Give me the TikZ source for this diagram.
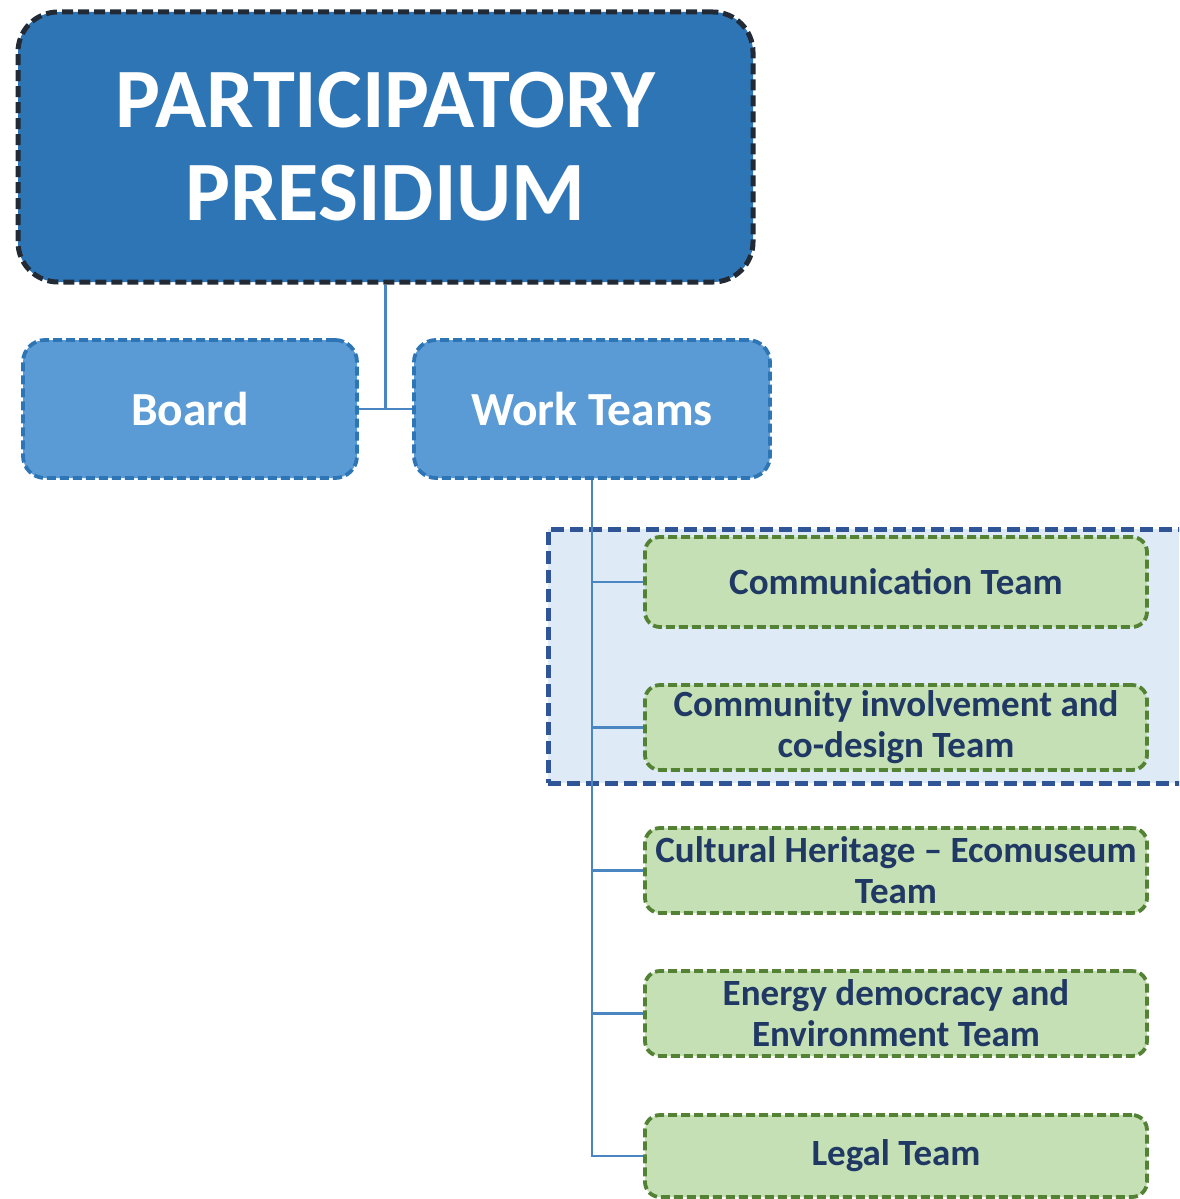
\documentclass[tikz,border=0pt]{standalone}
\usepackage{fontspec}
\setmainfont{Carlito}
\definecolor{presfill}{HTML}{2E75B6}
\definecolor{presdraw}{HTML}{222A35}
\definecolor{midfill}{HTML}{5B9BD5}
\definecolor{middraw}{HTML}{2E75B6}
\definecolor{hlfill}{HTML}{DEEBF7}
\definecolor{hldraw}{HTML}{2F5597}
\definecolor{grfill}{HTML}{C5E0B4}
\definecolor{grdraw}{HTML}{548235}
\definecolor{grtext}{HTML}{203864}
\definecolor{conn}{HTML}{4A86C2}
\begin{document}
\begin{tikzpicture}[x=1pt,y=-1pt,
  presbox/.style={draw=presdraw,fill=presfill,line width=5pt,dash pattern=on 11pt off 5pt,rounded corners=40pt,text=white,font=\bfseries\fontsize{84.5}{93}\selectfont,align=center,inner sep=0pt},
  midbox/.style={draw=middraw,fill=midfill,line width=3.8pt,dash pattern=on 9pt off 4pt,rounded corners=22pt,text=white,font=\bfseries\fontsize{47.5}{50}\selectfont,align=center,minimum height=138pt,inner sep=0pt},
  teambox/.style={draw=grdraw,fill=grfill,line width=3.8pt,dash pattern=on 9pt off 4pt,rounded corners=15pt,text=grtext,font=\bfseries\fontsize{37}{41}\selectfont,align=center,minimum width=502pt,inner sep=0pt},
  link/.style={draw=conn,line width=2.4pt}]
\useasboundingbox (0,0) rectangle (1179,1199);
\begin{scope}
\clip (0,0) rectangle (1179,1199);
\node[draw=hldraw,fill=hlfill,line width=5pt,dash pattern=on 13pt off 6pt,minimum width=660pt,minimum height=254pt,inner sep=0pt] (hl) at (878,656) {};
\end{scope}
\node[presbox,minimum width=735pt,minimum height=270pt] (pres) at (385.5,147) {PARTICIPATORY\\PRESIDIUM};
\node[midbox,minimum width=334pt] (board) at (190,409) {Board};
\node[midbox,minimum width=356pt] (wt) at (592,409) {Work Teams};
\node[teambox,minimum height=90pt] (comm) at (896,582) {Communication Team};
\node[teambox,minimum height=85pt] (cinv) at (896,727.5) {Community involvement and\\co-design Team};
\node[teambox,minimum height=85pt] (cult) at (896,870.5) {Cultural Heritage -- Ecomuseum\\Team};
\node[teambox,minimum height=85pt] (ener) at (896,1013.5) {Energy democracy and\\Environment Team};
\node[teambox,minimum height=82pt] (legal) at (896,1156) {Legal Team};
\draw[link] (pres.south) -- (pres.south |- board.east);
\draw[link] (board.east) -- (wt.west);
\draw[link] (wt.south) -- (wt.south |- legal.west) -- (legal.west);
\foreach \t in {comm,cinv,cult,ener}
  \draw[link] (wt.south |- \t.west) -- (\t.west);
\end{tikzpicture}
\end{document}
